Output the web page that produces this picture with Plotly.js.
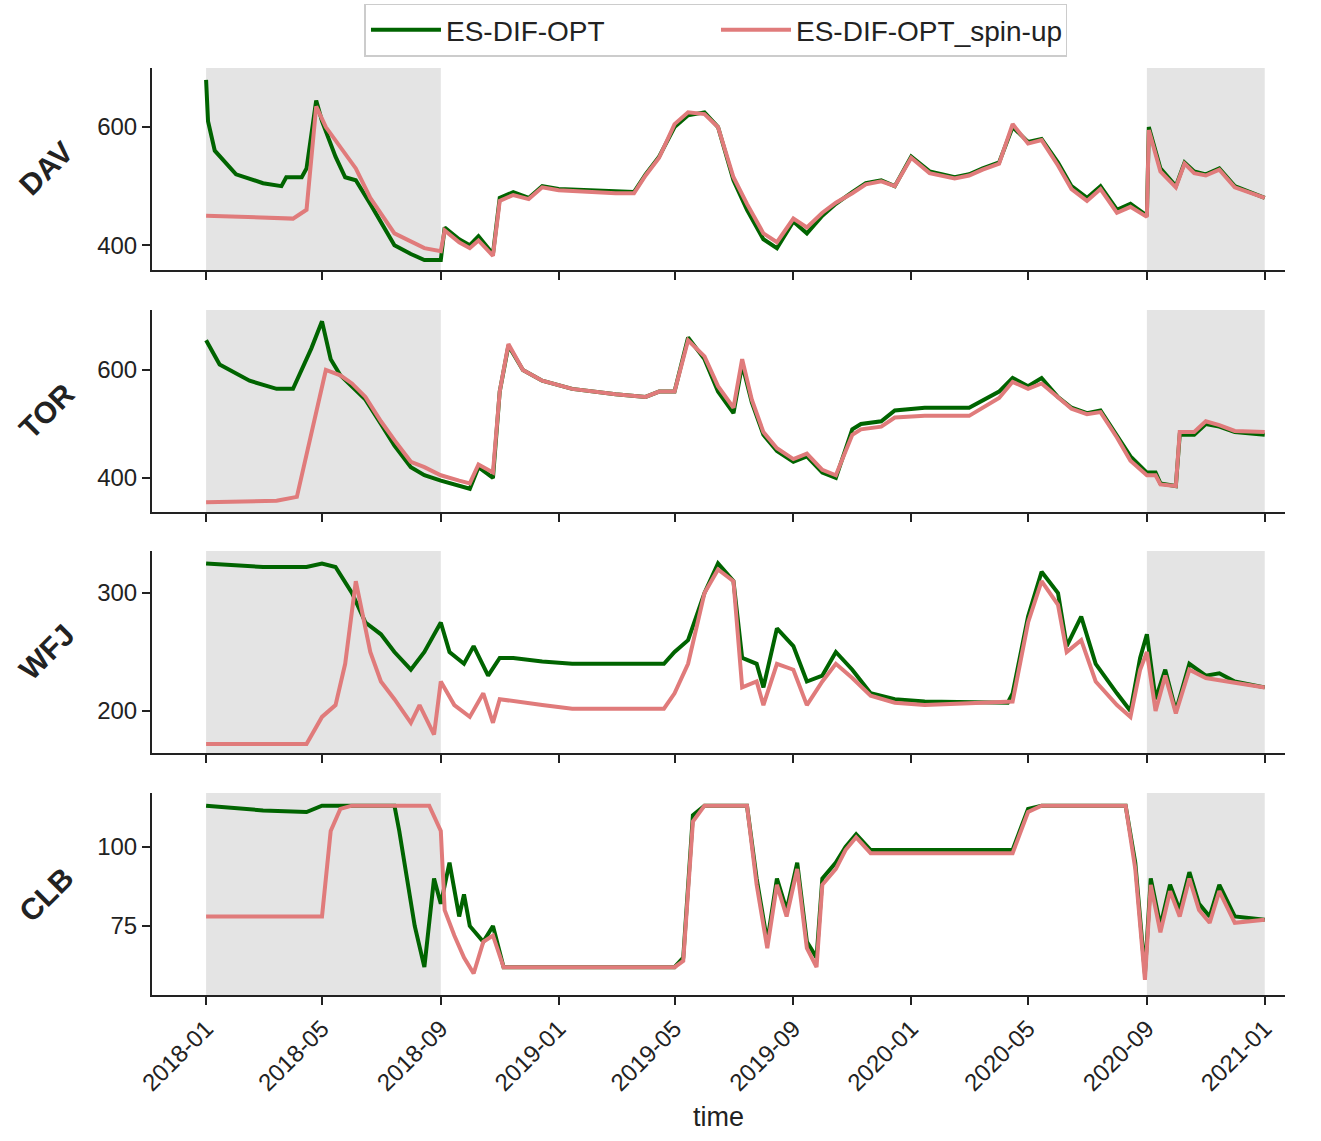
<!DOCTYPE html>
<html><head><meta charset="utf-8">
<script src="https://cdn.plot.ly/plotly-3.0.1.min.js"></script>
<style>body{margin:0}#c{width:1321px;height:1141px}</style></head>
<body><div id="c"></div>
<script>
const sites=["DAV","TOR","WFJ","CLB"];
const davOptD=["2018-01-01","2018-01-03","2018-01-10","2018-02-01","2018-03-01","2018-03-20","2018-03-25","2018-04-10","2018-04-15","2018-04-25","2018-05-01","2018-05-15","2018-05-25","2018-06-05","2018-06-20","2018-07-01","2018-07-15","2018-08-01","2018-08-15","2018-09-01","2018-09-05","2018-09-20","2018-10-01","2018-10-10","2018-10-25","2018-11-01","2018-11-15","2018-12-01","2018-12-15","2019-01-01","2019-03-01","2019-03-20","2019-04-01","2019-04-15","2019-05-01","2019-05-15","2019-06-01","2019-06-15","2019-07-01","2019-07-15","2019-08-01","2019-08-15","2019-09-01","2019-09-15","2019-10-01","2019-10-15","2019-11-01","2019-11-15","2019-12-01","2019-12-15","2020-01-01","2020-01-20","2020-02-15","2020-03-01","2020-03-15","2020-04-01","2020-04-15","2020-05-01","2020-05-15","2020-06-01","2020-06-15","2020-07-01","2020-07-15","2020-08-01","2020-08-15","2020-09-01","2020-09-03","2020-09-15","2020-10-01","2020-10-10","2020-10-20","2020-11-01","2020-11-15","2020-12-01","2021-01-01"];
const davOptV=[680,610,560,520,505,500,515,515,530,645,610,550,515,510,470,440,400,385,375,375,430,410,400,415,385,480,490,480,500,495,490,490,520,550,600,620,625,600,510,460,410,395,440,420,450,470,490,505,510,500,550,525,515,520,530,540,600,575,580,540,500,480,500,460,470,450,600,530,500,540,525,520,530,500,480];
const davSpinD=["2018-01-01","2018-04-01","2018-04-15","2018-04-25","2018-05-05","2018-05-20","2018-06-05","2018-06-20","2018-07-15","2018-08-15","2018-09-01","2018-09-05","2018-09-20","2018-10-01","2018-10-10","2018-10-25","2018-11-01","2018-11-15","2018-12-01","2018-12-15","2019-01-01","2019-03-01","2019-03-20","2019-04-01","2019-04-15","2019-05-01","2019-05-15","2019-06-01","2019-06-15","2019-07-01","2019-07-15","2019-08-01","2019-08-15","2019-09-01","2019-09-15","2019-10-01","2019-10-15","2019-11-01","2019-11-15","2019-12-01","2019-12-15","2020-01-01","2020-01-20","2020-02-15","2020-03-01","2020-03-15","2020-04-01","2020-04-15","2020-05-01","2020-05-15","2020-06-01","2020-06-15","2020-07-01","2020-07-15","2020-08-01","2020-08-15","2020-09-01","2020-09-03","2020-09-15","2020-10-01","2020-10-10","2020-10-20","2020-11-01","2020-11-15","2020-12-01","2021-01-01"];
const davSpinV=[450,445,460,635,600,565,530,480,420,395,390,425,405,395,408,382,475,485,478,498,493,488,488,518,548,605,625,622,600,515,470,420,405,445,430,455,472,488,503,508,500,548,522,513,518,528,538,605,572,578,535,495,475,495,455,465,448,595,525,498,538,522,518,528,498,480];
const torOptD=["2018-01-01","2018-01-15","2018-02-15","2018-03-15","2018-04-01","2018-04-10","2018-04-20","2018-05-01","2018-05-10","2018-05-20","2018-06-01","2018-06-15","2018-07-01","2018-07-15","2018-08-01","2018-08-15","2018-09-01","2018-09-20","2018-10-01","2018-10-10","2018-10-25","2018-11-01","2018-11-10","2018-11-25","2018-12-15","2019-01-15","2019-03-01","2019-04-01","2019-04-15","2019-05-01","2019-05-15","2019-06-01","2019-06-15","2019-07-01","2019-07-10","2019-07-20","2019-08-01","2019-08-15","2019-09-01","2019-09-15","2019-10-01","2019-10-15","2019-11-01","2019-11-10","2019-12-01","2019-12-15","2020-01-15","2020-03-01","2020-04-01","2020-04-15","2020-05-01","2020-05-15","2020-06-01","2020-06-15","2020-07-01","2020-07-15","2020-08-01","2020-08-15","2020-09-01","2020-09-10","2020-09-15","2020-10-01","2020-10-05","2020-10-20","2020-11-01","2020-11-15","2020-12-01","2021-01-01"];
const torOptV=[655,610,580,565,565,600,640,690,620,590,570,545,500,460,420,405,395,385,380,420,400,560,645,600,580,565,555,550,560,560,660,620,560,520,610,540,480,450,430,440,410,400,490,500,505,525,530,530,560,585,570,585,550,530,520,525,480,440,410,410,390,385,480,480,500,495,485,480];
const torSpinD=["2018-01-01","2018-03-15","2018-04-05","2018-04-20","2018-05-05","2018-05-20","2018-06-01","2018-06-15","2018-07-01","2018-07-15","2018-08-01","2018-08-15","2018-09-01","2018-09-20","2018-10-01","2018-10-10","2018-10-25","2018-11-01","2018-11-10","2018-11-25","2018-12-15","2019-01-15","2019-03-01","2019-04-01","2019-04-15","2019-05-01","2019-05-15","2019-06-01","2019-06-15","2019-07-01","2019-07-10","2019-07-20","2019-08-01","2019-08-15","2019-09-01","2019-09-15","2019-10-01","2019-10-15","2019-11-01","2019-11-10","2019-12-01","2019-12-15","2020-01-15","2020-03-01","2020-04-01","2020-04-15","2020-05-01","2020-05-15","2020-06-01","2020-06-15","2020-07-01","2020-07-15","2020-08-01","2020-08-15","2020-09-01","2020-09-10","2020-09-15","2020-10-01","2020-10-05","2020-10-20","2020-11-01","2020-11-15","2020-12-01","2021-01-01"];
const torSpinV=[355,358,365,480,600,590,575,550,505,470,430,420,405,395,390,425,410,560,648,600,580,565,555,550,560,560,655,625,570,530,620,545,485,455,435,445,415,405,480,490,495,512,515,515,548,578,565,575,548,528,518,522,475,432,405,405,388,385,485,485,505,498,487,485];
const wfjOptD=["2018-01-01","2018-03-01","2018-04-15","2018-05-01","2018-05-15","2018-06-01","2018-06-15","2018-07-01","2018-07-15","2018-08-01","2018-08-15","2018-09-01","2018-09-10","2018-09-25","2018-10-05","2018-10-20","2018-11-01","2018-11-15","2018-12-15","2019-01-15","2019-04-20","2019-05-01","2019-05-15","2019-06-01","2019-06-15","2019-07-01","2019-07-10","2019-07-25","2019-08-01","2019-08-15","2019-09-01","2019-09-15","2019-10-01","2019-10-15","2019-11-01","2019-11-20","2019-12-15","2020-01-15","2020-04-10","2020-04-15","2020-05-01","2020-05-15","2020-06-01","2020-06-10","2020-06-25","2020-07-10","2020-08-01","2020-08-15","2020-08-25","2020-09-01","2020-09-10","2020-09-20","2020-10-01","2020-10-15","2020-11-01","2020-11-15","2020-12-01","2021-01-01"];
const wfjOptV=[325,322,322,325,322,300,275,265,250,235,250,275,250,240,255,230,245,245,242,240,240,250,260,300,325,310,245,240,220,270,255,225,230,250,235,215,210,208,207,215,280,318,300,255,280,240,215,200,245,265,210,235,200,240,230,232,225,220];
const wfjSpinD=["2018-01-01","2018-04-15","2018-05-01","2018-05-15","2018-05-25","2018-06-05","2018-06-20","2018-07-01","2018-07-15","2018-08-01","2018-08-10","2018-08-25","2018-09-01","2018-09-15","2018-10-01","2018-10-15","2018-10-25","2018-11-01","2018-12-15","2019-01-15","2019-04-20","2019-05-01","2019-05-15","2019-06-01","2019-06-15","2019-07-01","2019-07-10","2019-07-25","2019-08-01","2019-08-15","2019-09-01","2019-09-15","2019-10-01","2019-10-15","2019-11-01","2019-11-20","2019-12-15","2020-01-15","2020-04-15","2020-05-01","2020-05-15","2020-06-01","2020-06-10","2020-06-25","2020-07-10","2020-08-01","2020-08-15","2020-08-25","2020-09-01","2020-09-10","2020-09-20","2020-10-01","2020-10-15","2020-11-01","2020-12-01","2021-01-01"];
const wfjSpinV=[172,172,195,205,240,310,250,225,210,190,205,180,225,205,195,215,190,210,205,202,202,215,240,300,320,310,220,225,205,240,235,205,225,240,228,213,207,205,208,275,310,290,250,260,225,205,195,235,250,200,230,198,235,228,224,220];
const clbOptD=["2018-01-01","2018-03-01","2018-04-15","2018-05-01","2018-07-15","2018-07-20","2018-08-05","2018-08-15","2018-08-25","2018-09-01","2018-09-10","2018-09-20","2018-09-25","2018-10-01","2018-10-15","2018-10-25","2018-11-05","2019-05-01","2019-05-10","2019-05-20","2019-06-01","2019-07-15","2019-07-25","2019-08-05","2019-08-15","2019-08-25","2019-09-05","2019-09-15","2019-09-25","2019-10-01","2019-10-15","2019-10-25","2019-11-05","2019-11-20","2019-12-15","2020-04-15","2020-05-01","2020-05-15","2020-08-10","2020-08-20","2020-08-30","2020-09-05","2020-09-15","2020-09-25","2020-10-05","2020-10-15","2020-10-25","2020-11-05","2020-11-15","2020-12-01","2021-01-01"];
const clbOptV=[113,111.5,111,113,113,105,75,62,90,82,95,78,85,75,70,75,62,62,65,110,113,113,90,70,90,80,95,70,65,90,95,100,104,99,99,99,112,113,113,95,60,90,75,88,80,92,82,78,88,78,77];
const clbSpinD=["2018-01-01","2018-05-01","2018-05-10","2018-05-20","2018-06-01","2018-08-20","2018-09-01","2018-09-05","2018-09-15","2018-09-25","2018-10-05","2018-10-15","2018-10-25","2018-11-05","2019-05-01","2019-05-10","2019-05-20","2019-06-01","2019-07-15","2019-07-25","2019-08-05","2019-08-15","2019-08-25","2019-09-05","2019-09-15","2019-09-25","2019-10-01","2019-10-15","2019-10-25","2019-11-05","2019-11-20","2019-12-15","2020-04-15","2020-05-01","2020-05-15","2020-08-10","2020-08-20","2020-08-30","2020-09-05","2020-09-15","2020-09-25","2020-10-05","2020-10-15","2020-10-25","2020-11-05","2020-11-15","2020-12-01","2021-01-01"];
const clbSpinV=[78,78,105,112,113,113,105,80,72,65,60,70,72,62,62,64,108,113,113,88,68,88,78,93,68,62,88,93,99,103,98,98,98,111,113,113,93,58,88,73,86,78,90,80,76,86,76,77];
const seriesOpt=[[davOptD,davOptV],[torOptD,torOptV],[wfjOptD,wfjOptV],[clbOptD,clbOptV]];
const seriesSpin=[[davSpinD,davSpinV],[torSpinD,torSpinV],[wfjSpinD,wfjSpinV],[clbSpinD,clbSpinV]];
const yRanges=[[358,700],[337,711],[164.4,335.6],[53.2,117]];
const yTicks=[[400,600],[400,600],[200,300],[75,100]];
const pxTop=[68,310,551,793], pxBot=[270,512,753,995];
const H=1141,W=1321;
const green="#006400", pink="#e07b7b";
const traces=[], shapes=[], annotations=[];
const layout={width:W,height:H,margin:{l:0,r:0,t:0,b:0},paper_bgcolor:"white",plot_bgcolor:"white",
 font:{family:"Liberation Sans, Arial, sans-serif",size:24,color:"#222"},
 showlegend:true,legend:{orientation:"h",x:0.542,xanchor:"center",y:1-30/H,yanchor:"middle",bordercolor:"#ccc",borderwidth:1.5,font:{size:28},bgcolor:"white",entrywidth:265,itemwidth:70}};
for(let i=0;i<4;i++){
  const s=i===0?"":String(i+1);
  traces.push({x:seriesOpt[i][0],y:seriesOpt[i][1],xaxis:"x"+s,yaxis:"y"+s,mode:"lines",name:"ES-DIF-OPT",line:{color:green,width:4},showlegend:i===0});
  traces.push({x:seriesSpin[i][0],y:seriesSpin[i][1],xaxis:"x"+s,yaxis:"y"+s,mode:"lines",name:"ES-DIF-OPT_spin-up",line:{color:pink,width:4},showlegend:i===0});
  layout["xaxis"+s]={domain:[152/W,1285/W],anchor:"y"+s,type:"date",range:["2017-11-06","2021-01-22"],
    tickvals:["2018-01-01","2018-05-01","2018-09-01","2019-01-01","2019-05-01","2019-09-01","2020-01-01","2020-05-01","2020-09-01","2021-01-01"],
    ticktext:["2018-01","2018-05","2018-09","2019-01","2019-05","2019-09","2020-01","2020-05","2020-09","2021-01"],
    showticklabels:i===3,tickangle:-45,ticks:"outside",ticklen:8,tickwidth:2,tickcolor:"#222",showline:true,linewidth:2,linecolor:"#222",showgrid:false,zeroline:false,automargin:false,
    title:i===3?{text:"time",font:{size:27},standoff:12}:undefined};
  layout["yaxis"+s]={domain:[1-pxBot[i]/H,1-pxTop[i]/H],anchor:"x"+s,range:yRanges[i],tickvals:yTicks[i],ticks:"outside",ticklen:8,tickwidth:2,tickcolor:"#222",showline:true,linewidth:2,linecolor:"#222",showgrid:false,zeroline:false,automargin:false};
  for(const r of [["2018-01-01","2018-09-01"],["2020-09-01","2021-01-01"]])
    shapes.push({type:"rect",xref:"x"+s,yref:"y"+s+" domain",x0:r[0],x1:r[1],y0:0,y1:1,fillcolor:"#e4e4e4",line:{width:0},layer:"below"});
  annotations.push({text:"<b>"+sites[i]+"</b>",xref:"paper",yref:"paper",x:46/W,y:1-((pxTop[i]+pxBot[i])/2)/H,xanchor:"center",yanchor:"middle",showarrow:false,textangle:-45,font:{size:30,color:"#222"}});
}
layout.shapes=shapes;layout.annotations=annotations;
Plotly.newPlot("c",traces,layout,{displayModeBar:false});
</script></body></html>
